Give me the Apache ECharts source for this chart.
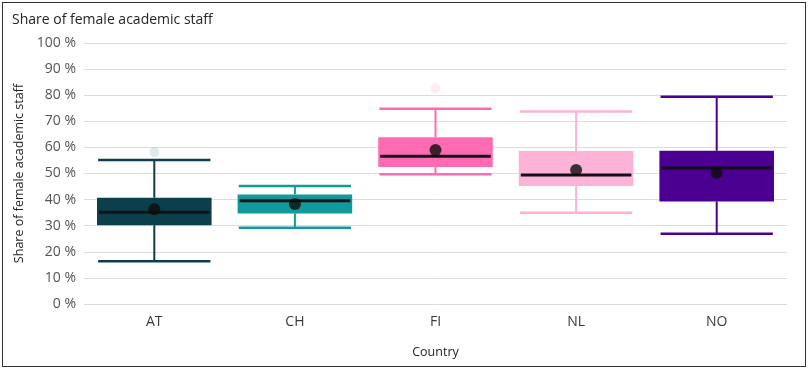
<!DOCTYPE html>
<html>
<head>
<meta charset="utf-8">
<script src="https://cdn.jsdelivr.net/npm/echarts@6/dist/echarts.min.js"></script>
<style>
html,body{margin:0;padding:0;background:#fff;}
#frame{position:absolute;left:2px;top:2px;width:802px;height:363px;border:1.5px solid #333;box-sizing:content-box;}
#chart{position:absolute;left:0;top:0;width:809px;height:370px;}
</style>
</head>
<body>
<div id="frame"></div>
<div id="chart"></div>
<script>
var categories = ['AT', 'CH', 'FI', 'NL', 'NO'];
// [lower whisker, Q1, median, Q3, upper whisker]
var boxValues = [
  [16.4, 30.2, 35.2, 40.7, 55.2],
  [29.2, 34.7, 39.6, 42.0, 45.2],
  [49.7, 52.5, 56.6, 63.9, 74.8],
  [35.0, 45.2, 49.4, 58.6, 73.8],
  [26.9, 39.3, 52.1, 58.7, 79.4]
];
var meanValues = [36.3, 38.3, 59.0, 51.3, 50.3];
// [category index, value]
var outlierValues = [[0, 58.2], [2, 82.6]];
var colors = ['#0B3F4B', '#12999A', '#FE6BB4', '#FDB2D7', '#4B0092'];
var yTicks = [0, 10, 20, 30, 40, 50, 60, 70, 80, 90, 100];

var fontFam = '"Open Sans", "Noto Sans", sans-serif';
var chart = echarts.init(document.getElementById('chart'), null, {renderer: 'canvas'});

var boxData = boxValues.map(function (b, i) { return [i].concat(b); });

chart.setOption({
  animation: false,
  title: {
    text: 'Share of female academic staff',
    left: 7, top: 8,
    textStyle: {fontFamily: fontFam, fontSize: 14, fontWeight: 'normal', color: '#252423'}
  },
  grid: {left: 84, right: 22, top: 43, bottom: 66},
  xAxis: {
    type: 'category',
    data: categories,
    name: 'Country',
    nameLocation: 'middle',
    nameGap: 42,
    nameTextStyle: {fontFamily: fontFam, fontSize: 12.5, color: '#252423'},
    axisLine: {show: false},
    axisTick: {show: false},
    axisLabel: {fontFamily: fontFam, fontSize: 14, color: '#3b3a39', margin: 11},
    splitLine: {show: false}
  },
  yAxis: {
    type: 'value',
    min: 0, max: 100, interval: 10,
    name: 'Share of female academic staff',
    nameLocation: 'middle',
    nameGap: 56,
    nameTextStyle: {fontFamily: fontFam, fontSize: 12.5, color: '#252423'},
    axisLine: {show: false},
    axisTick: {show: false},
    axisLabel: {
      fontFamily: fontFam, fontSize: 14, color: '#555453', margin: 8,
      formatter: function (v) { return yTicks.indexOf(v) >= 0 ? v + ' %' : ''; }
    },
    splitLine: {lineStyle: {color: '#dcdcdc', width: 1}}
  },
  series: [
    {
      type: 'custom',
      data: boxData,
      encode: {x: 0, y: [1, 2, 3, 4, 5]},
      renderItem: function (params, api) {
        var idx = api.value(0);
        var band = api.size([1, 0])[0];
        var w = band * 0.815;
        var c = colors[idx];
        var pLow = api.coord([idx, api.value(1)]);
        var pQ1 = api.coord([idx, api.value(2)]);
        var pMed = api.coord([idx, api.value(3)]);
        var pQ3 = api.coord([idx, api.value(4)]);
        var pHigh = api.coord([idx, api.value(5)]);
        var x = pLow[0];
        var capW = w * 0.98;
        return {
          type: 'group',
          children: [
            {type: 'line', shape: {x1: x, y1: pHigh[1], x2: x, y2: pQ3[1]}, style: {stroke: c, lineWidth: 2}},
            {type: 'line', shape: {x1: x, y1: pQ1[1], x2: x, y2: pLow[1]}, style: {stroke: c, lineWidth: 2}},
            {type: 'line', shape: {x1: x - capW / 2, y1: pHigh[1], x2: x + capW / 2, y2: pHigh[1]}, style: {stroke: c, lineWidth: 2.5}},
            {type: 'line', shape: {x1: x - capW / 2, y1: pLow[1], x2: x + capW / 2, y2: pLow[1]}, style: {stroke: c, lineWidth: 2.5}},
            {type: 'rect', shape: {x: x - w / 2, y: pQ3[1], width: w, height: pQ1[1] - pQ3[1]}, style: {fill: c}},
            {type: 'line', shape: {x1: x - w / 2 + 2, y1: pMed[1], x2: x + w / 2 - 2, y2: pMed[1]}, style: {stroke: '#111117', lineWidth: 3}}
          ]
        };
      },
      z: 2
    },
    {
      type: 'scatter',
      data: meanValues.map(function (v, i) { return [i, v]; }),
      symbol: 'circle',
      symbolSize: 12,
      itemStyle: {color: '#0d0d0d'},
      z: 5
    },
    {
      type: 'scatter',
      data: outlierValues,
      symbol: 'circle',
      symbolSize: 10,
      itemStyle: {
        color: function (p) { return colors[p.value[0]]; },
        opacity: 0.12
      },
      z: 4
    }
  ]
});
</script>
</body>
</html>
